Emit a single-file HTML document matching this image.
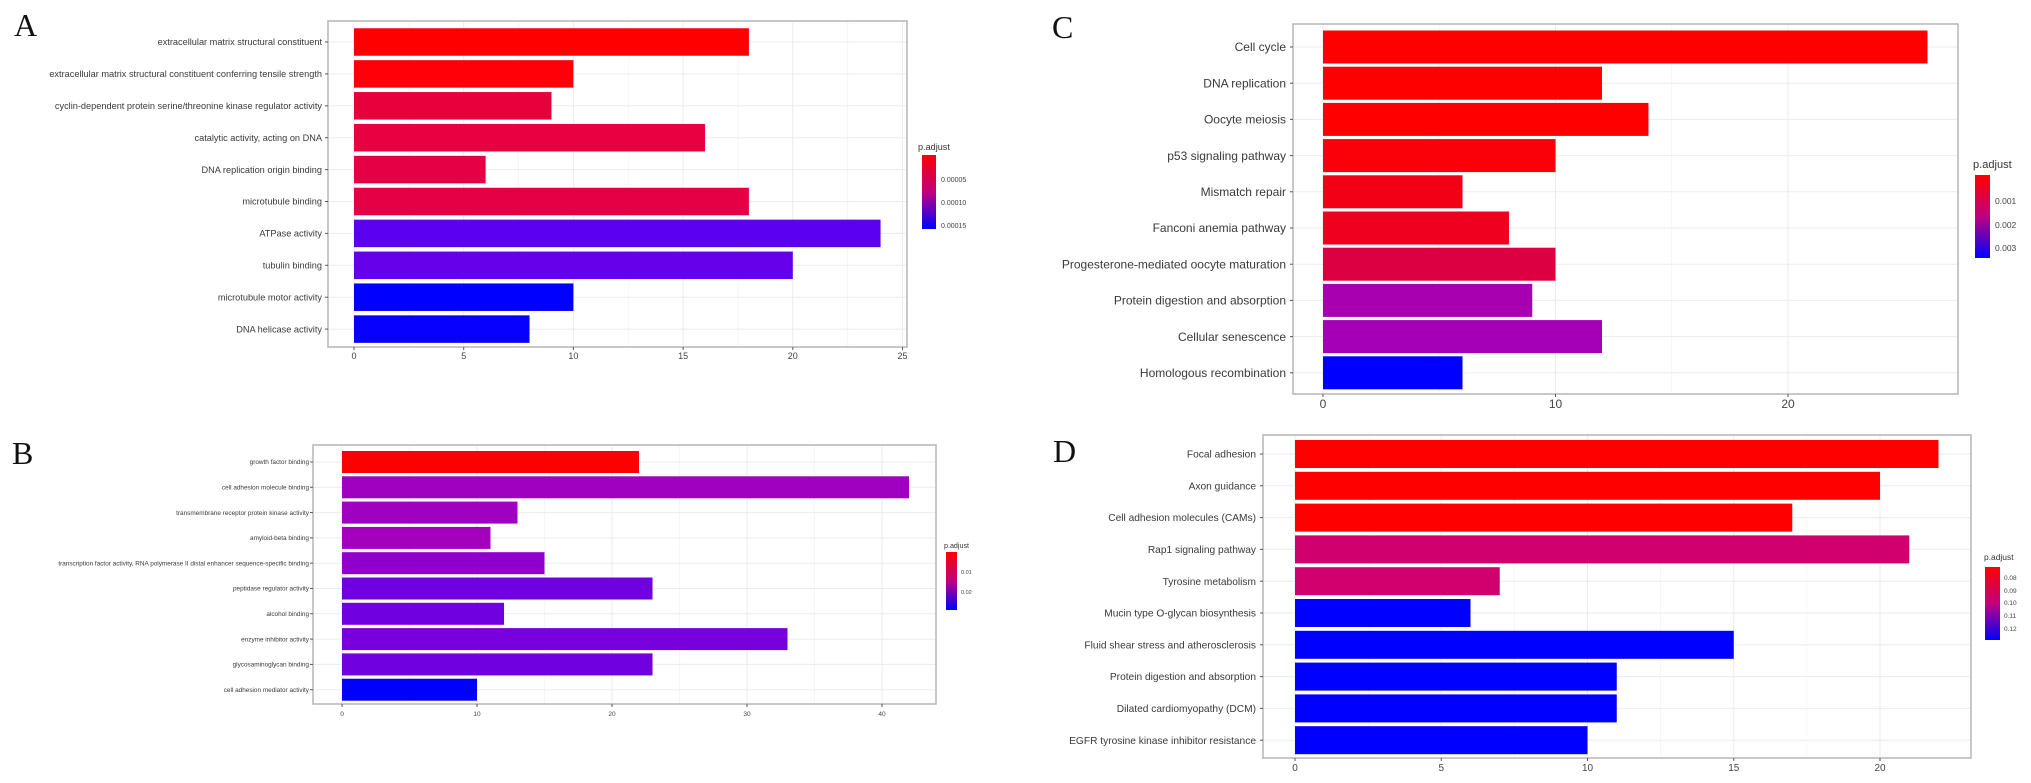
<!DOCTYPE html>
<html><head><meta charset="utf-8">
<style>
html,body{margin:0;padding:0;background:#fff;}
svg{display:block;font-family:"Liberation Sans",sans-serif;}
</style></head>
<body>
<svg id="chart" width="2031" height="783" viewBox="0 0 2031 783" xmlns="http://www.w3.org/2000/svg">
<defs>
<linearGradient id="gradRB" x1="0" y1="0" x2="0" y2="1"><stop offset="0" stop-color="#ff0000"/><stop offset="0.5" stop-color="#c0007f"/><stop offset="1" stop-color="#0000ff"/></linearGradient>
</defs>
<text x="14" y="36" font-family="Liberation Serif,serif" font-size="32" fill="#111">A</text>
<text x="12" y="464" font-family="Liberation Serif,serif" font-size="32" fill="#111">B</text>
<text x="1052" y="38" font-family="Liberation Serif,serif" font-size="32" fill="#111">C</text>
<text x="1053" y="462" font-family="Liberation Serif,serif" font-size="32" fill="#111">D</text>
</svg>
<script>
// Panel A data
const catsA = ["extracellular matrix structural constituent","extracellular matrix structural constituent conferring tensile strength","cyclin-dependent protein serine/threonine kinase regulator activity","catalytic activity, acting on DNA","DNA replication origin binding","microtubule binding","ATPase activity","tubulin binding","microtubule motor activity","DNA helicase activity"];
const valsA = [18,10,9,16,6,18,24,20,10,8];
const colsA = ["#ff0000","#ff0008","#e8003c","#e80040","#e50045","#e50045","#5b00f0","#6400ea","#0000ff","#0800ff"];
const ticksA = [0,5,10,15,20,25];
const legA = ["0.00005","0.00010","0.00015"];
// Panel B data
const catsB = ["growth factor binding","cell adhesion molecule binding","transmembrane receptor protein kinase activity","amyloid-beta binding","transcription factor activity, RNA polymerase II distal enhancer sequence-specific binding","peptidase regulator activity","alcohol binding","enzyme inhibitor activity","glycosaminoglycan binding","cell adhesion mediator activity"];
const valsB = [22,42,13,11,15,23,12,33,23,10];
const colsB = ["#ff0000","#a000c0","#a000c0","#a500c0","#9000cc","#7000e0","#7000e0","#7800dc","#7000e0","#0000ff"];
const ticksB = [0,10,20,30,40];
const legB = ["0.01","0.02"];
// Panel C data
const catsC = ["Cell cycle","DNA replication","Oocyte meiosis","p53 signaling pathway","Mismatch repair","Fanconi anemia pathway","Progesterone-mediated oocyte maturation","Protein digestion and absorption","Cellular senescence","Homologous recombination"];
const valsC = [26,12,14,10,6,8,10,9,12,6];
const colsC = ["#ff0000","#ff0000","#ff0000","#fa0008","#f20015","#ee001e","#dd0040","#a800b0","#a300b8","#0000ff"];
const ticksC = [0,10,20];
const legC = ["0.001","0.002","0.003"];
// Panel D data
const catsD = ["Focal adhesion","Axon guidance","Cell adhesion molecules (CAMs)","Rap1 signaling pathway","Tyrosine metabolism","Mucin type O-glycan biosynthesis","Fluid shear stress and atherosclerosis","Protein digestion and absorption","Dilated cardiomyopathy (DCM)","EGFR tyrosine kinase inhibitor resistance"];
const valsD = [22,20,17,21,7,6,15,11,11,10];
const colsD = ["#ff0000","#ff0000","#ff0000","#d0006e","#d0006e","#0000ff","#0000ff","#0000ff","#0000ff","#0000ff"];
const ticksD = [0,5,10,15,20];
const legD = ["0.08","0.09","0.10","0.11","0.12"];

const NS="http://www.w3.org/2000/svg";
const svg=document.getElementById('chart');
function mk(tag,attrs,parent){const e=document.createElementNS(NS,tag);for(const k in attrs)e.setAttribute(k,attrs[k]);(parent||svg).appendChild(e);return e;}

const layouts = {
 A:{box:[328,21,907,347],x0:354,ppu:21.94,y0:42,step:31.9,bh:27.5,labX:322,fs:9.2,tickY:359,tfs:9,
    leg:{tx:918,ty:150,bx:922,by:155,bw:14,bh:74,lx:941,ly:[182,205,228],fs:7}},
 B:{box:[313,445,936,704],x0:342,ppu:13.5,y0:462,step:25.3,bh:22,labX:309,fs:6.4,tickY:716,tfs:6.5,
    leg:{tx:944,ty:548,bx:946,by:552,bw:11,bh:58,lx:961,ly:[574,594],fs:5.5}},
 C:{box:[1293,24,1958,394],x0:1323,ppu:23.25,y0:47,step:36.2,bh:33,labX:1286,fs:12,tickY:408,tfs:12,
    leg:{tx:1973,ty:168,bx:1975,by:175,bw:15,bh:83,lx:1995,ly:[204,228,251],fs:8.5}},
 D:{box:[1263,435,1971,758],x0:1295,ppu:29.25,y0:454,step:31.8,bh:28,labX:1256,fs:10.2,tickY:771,tfs:10,
    leg:{tx:1984,ty:560,bx:1985,by:567,bw:15,bh:73,lx:2004,ly:[580,593,605,618,631],fs:6.5}}
};

function panel(key,cats,vals,cols,ticks,leg){
 const L=layouts[key];
 const g=mk('g',{});
 
 
 const [bx0,by0,bx1,by1]=L.box;
 const xs=v=>L.x0+v*L.ppu;
 const ys=i=>L.y0+i*L.step;
 const bg=mk('rect',{x:bx0,y:by0,width:bx1-bx0,height:by1-by0,fill:'#fff',stroke:'#b5b5b5','stroke-width':1.5},g);
 
 
 // grid
 for(let i=0;i<ticks.length;i++){
  const gx=xs(ticks[i]);
  const gl=mk('line',{x1:gx,x2:gx,y1:by0+1,y2:by1-1,stroke:'#ebebeb','stroke-width':1},g);
  
  
  if(i<ticks.length-1){const mx=xs((ticks[i]+ticks[i+1])/2);
   const ml=mk('line',{x1:mx,x2:mx,y1:by0+1,y2:by1-1,stroke:'#f4f4f4','stroke-width':0.8},g);
   
   }
 }
 cats.forEach((c,i)=>{
  const hl=mk('line',{x1:bx0+1,x2:bx1-1,y1:ys(i),y2:ys(i),stroke:'#ebebeb','stroke-width':1},g);
  
  
 });
 cats.forEach((c,i)=>{
  const r=mk('rect',{x:xs(0),y:ys(i)-L.bh/2,width:xs(vals[i])-xs(0),height:L.bh,fill:cols[i]},g);
  
  
  const t=mk('text',{x:L.labX,y:ys(i)+L.fs*0.35,'text-anchor':'end','font-size':L.fs,fill:'#3a3a3a'},g);
  t.textContent=c;
  
  
  const tk=mk('line',{x1:bx0-3,x2:bx0,y1:ys(i),y2:ys(i),stroke:'#555','stroke-width':1},g);
  
  
 });
 ticks.forEach(v=>{
  const tk=mk('line',{x1:xs(v),x2:xs(v),y1:by1,y2:by1+3,stroke:'#555','stroke-width':1},g);
  
  
  const t=mk('text',{x:xs(v),y:L.tickY,'text-anchor':'middle','font-size':L.tfs,fill:'#444'},g);
  t.textContent=v;
  
  
 });
 const lg=L.leg;
 const tt=mk('text',{x:lg.tx,y:lg.ty,'font-size':lg.fs*1.3,fill:'#333'},g);
 tt.textContent='p.adjust';
 
 
 const lb=mk('rect',{x:lg.bx,y:lg.by,width:lg.bw,height:lg.bh,fill:'url(#gradRB)'},g);
 
 
 leg.forEach((s,i)=>{
  const t=mk('text',{x:lg.lx,y:lg.ly[i],'font-size':lg.fs,fill:'#444'},g);
  t.textContent=s;
  
  
 });
}
panel('A',catsA,valsA,colsA,ticksA,legA);
panel('B',catsB,valsB,colsB,ticksB,legB);
panel('C',catsC,valsC,colsC,ticksC,legC);
panel('D',catsD,valsD,colsD,ticksD,legD);
</script>
</body></html>
